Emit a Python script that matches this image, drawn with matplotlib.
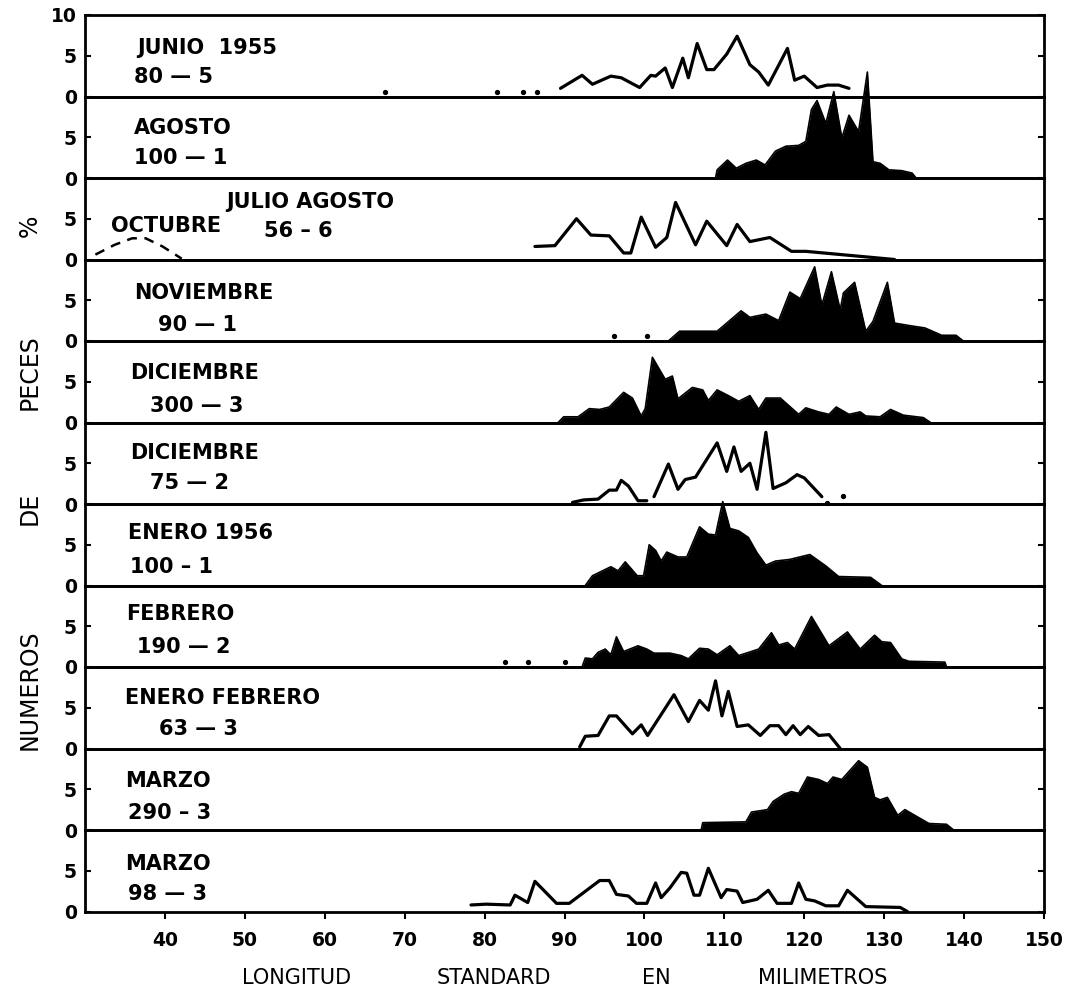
import numpy as np
import matplotlib.pyplot as plt

plt.rcParams['font.family'] = 'DejaVu Sans'

X_TICKS = [40, 50, 60, 70, 80, 90, 100, 110, 120, 130, 140, 150]

# Panel 1 - JUNIO 1955 (open line + stray dots)
junio_x = [89.5, 92.2, 93.5, 95.8, 97.1, 99.4, 100.8, 101.4, 102.6, 103.5, 104.8, 105.5, 106.6, 107.8,
           108.7, 110.3, 111.6, 113.2, 114.3, 115.5, 117.9, 118.8, 120.0, 121.6, 122.9, 124.3, 125.6]
junio_y = [1.0, 2.6, 1.5, 2.5, 2.3, 1.1, 2.6, 2.5, 3.5, 1.1, 4.7, 2.3, 6.5, 3.3,
           3.3, 5.2, 7.4, 3.9, 3.0, 1.4, 5.9, 2.0, 2.5, 1.1, 1.4, 1.4, 1.0]
junio_dots_x = [67.5, 81.5, 84.8, 86.5]
junio_dots_y = [0.6, 0.6, 0.6, 0.6]

# Panel 2 - AGOSTO (filled)
agosto_x = [108.9, 109.1, 110.4, 111.5, 112.7, 114.0, 115.1, 116.4, 117.7, 119.3, 120.2, 120.9, 121.6,
            122.7, 123.7, 124.7, 125.6, 126.8, 127.9, 128.6, 129.5, 130.6, 132.2, 133.5, 134.0]
agosto_y = [0, 1.0, 2.2, 1.2, 1.8, 2.2, 1.6, 3.3, 3.9, 4.0, 4.5, 8.4, 9.5,
            6.7, 10.6, 4.9, 7.7, 5.7, 13.0, 2.0, 1.8, 1.0, 0.9, 0.6, 0]

# Panel 3 - JULIO AGOSTO (open line) and OCTUBRE (dashed)
julio_x = [86.3, 88.8, 91.5, 93.3, 95.6, 97.4, 98.3, 99.6, 101.4, 102.8,
           103.9, 106.4, 107.8, 110.3, 111.6, 113.2, 115.7, 118.4, 120.2, 131.3]
julio_y = [1.6, 1.7, 5.0, 3.0, 2.9, 0.8, 0.8, 5.2, 1.5, 2.7,
           7.0, 1.8, 4.7, 1.7, 4.3, 2.2, 2.7, 1.0, 1.0, 0.0]
octubre_x = [31.3, 33.7, 35.9, 37.6, 39.7, 42.1]
octubre_y = [0.6, 1.8, 2.6, 2.6, 1.6, 0.1]

# Panel 4 - NOVIEMBRE (filled)
nov_x = [103.0, 104.4, 105.7, 109.1, 112.1, 113.2, 115.2, 116.8, 118.2, 119.5, 121.3, 122.2, 123.4,
         124.5, 124.9, 126.3, 127.7, 128.6, 130.4, 131.3, 133.1, 135.1, 137.2, 139.0, 139.9]
nov_y = [0, 1.2, 1.2, 1.2, 3.7, 2.9, 3.3, 2.5, 6.0, 5.2, 9.1, 4.4, 8.5,
         3.8, 5.9, 7.2, 1.2, 2.4, 7.2, 2.2, 1.9, 1.6, 0.7, 0.7, 0]
nov_dots_x = [96.2, 100.3]
nov_dots_y = [0.6, 0.6]

# Panel 5 - DICIEMBRE 300 (filled)
dic300_x = [89.2, 89.9, 91.7, 93.1, 94.4, 95.6, 97.4, 98.5, 99.6, 100.1, 101.0, 102.6, 103.5,
            104.2, 106.0, 107.3, 108.0, 109.1, 110.5, 111.8, 113.2, 114.3, 115.2, 117.0, 119.3,
            120.2, 121.8, 123.1, 124.0, 125.6, 127.0, 127.7, 129.5, 130.8, 132.4, 134.9, 135.8]
dic300_y = [0, 0.7, 0.7, 1.7, 1.6, 1.9, 3.7, 3.0, 0.8, 1.7, 8.0, 5.3, 5.7,
            2.9, 4.3, 4.0, 2.7, 4.0, 3.3, 2.6, 3.3, 1.6, 3.0, 3.0, 1.0,
            1.8, 1.3, 1.0, 1.9, 1.0, 1.3, 0.8, 0.7, 1.6, 0.9, 0.6, 0]

# Panel 6 - DICIEMBRE 75 (open line, broken near 100)
dic75_x = [91.0, 92.4, 94.2, 95.6, 96.5, 97.1, 98.0, 99.2, 100.3, np.nan, 101.2, 103.0, 104.2, 105.1,
           106.4, 109.1, 110.3, 111.2, 112.1, 113.2, 114.1, 115.2, 116.1, 117.7, 119.1, 120.0, 122.2]
dic75_y = [0.2, 0.5, 0.6, 1.7, 1.7, 2.9, 2.2, 0.4, 0.4, np.nan, 0.9, 4.9, 1.8, 3.0,
           3.3, 7.5, 4.0, 7.0, 4.0, 5.0, 1.8, 8.8, 1.9, 2.6, 3.6, 3.2, 0.9]
dic75_dots_x = [122.9, 124.9]
dic75_dots_y = [0.1, 1.0]

# Panel 7 - ENERO 1956 (filled)
enero_x = [92.6, 93.5, 95.8, 96.7, 97.6, 99.1, 99.9, 100.6, 101.4, 102.1, 102.8, 104.2, 105.3, 106.9,
           108.0, 108.9, 109.8, 110.7, 111.8, 113.0, 114.1, 115.2, 116.4, 118.2, 120.7, 122.7, 124.3,
           128.3, 129.7]
enero_y = [0, 1.2, 2.3, 1.8, 2.9, 1.2, 1.2, 5.0, 4.3, 3.0, 4.1, 3.5, 3.5, 7.2,
           6.3, 6.2, 10.3, 7.0, 6.7, 5.9, 4.0, 2.5, 3.0, 3.2, 3.8, 2.4, 1.1,
           1.0, 0]

# Panel 8 - FEBRERO (filled + dots)
feb_x = [92.2, 92.6, 93.5, 94.2, 95.1, 95.8, 96.5, 97.4, 99.2, 100.3, 101.2, 103.2, 104.6, 105.5,
         106.9, 108.0, 109.1, 110.7, 111.8, 114.3, 115.9, 116.8, 117.9, 118.8, 120.9, 123.1, 125.4,
         127.0, 128.8, 129.7, 130.8, 132.2, 133.1, 137.6, 137.8]
feb_y = [0, 1.1, 1.0, 1.8, 2.2, 1.5, 3.7, 1.9, 2.6, 2.2, 1.7, 1.7, 1.4, 1.0,
         2.3, 2.2, 1.5, 2.6, 1.4, 2.2, 4.2, 2.7, 3.0, 2.2, 6.2, 2.6, 4.3,
         2.2, 3.9, 3.1, 3.0, 1.0, 0.7, 0.6, 0]
feb_dots_x = [82.5, 85.4, 90.1]
feb_dots_y = [0.6, 0.6, 0.6]

# Panel 9 - ENERO FEBRERO (open line)
enefeb_x = [91.9, 92.6, 94.2, 95.6, 96.5, 98.5, 99.6, 100.4, 103.7, 105.5, 106.9, 108.0, 108.9, 109.7,
            110.5, 111.6, 113.0, 114.5, 115.7, 116.8, 117.7, 118.6, 119.5, 120.5, 121.8, 123.1, 124.5]
enefeb_y = [0.2, 1.5, 1.6, 4.0, 4.0, 1.8, 2.9, 1.6, 6.6, 3.3, 5.9, 4.7, 8.3, 4.0,
            7.0, 2.7, 2.9, 1.6, 2.8, 2.8, 1.7, 2.8, 1.7, 2.7, 1.6, 1.7, 0.0]

# Panel 10 - MARZO 290 (filled)
mar290_x = [107.1, 107.3, 112.7, 113.4, 115.4, 116.1, 117.5, 118.4, 119.3, 120.4, 121.8, 122.9, 123.6,
            124.7, 126.8, 127.9, 128.8, 129.5, 130.4, 131.7, 132.6, 134.0, 135.6, 137.8, 138.7]
mar290_y = [0, 0.9, 1.0, 2.2, 2.5, 3.5, 4.4, 4.7, 4.5, 6.5, 6.2, 5.7, 6.5,
            6.2, 8.5, 7.7, 4.0, 3.7, 4.0, 1.8, 2.5, 1.7, 0.8, 0.7, 0]

# Panel 11 - MARZO 98 (open line)
mar98_x = [78.3, 80.2, 83.2, 83.8, 85.4, 86.3, 89.0, 90.6, 94.4, 95.6, 96.5, 98.0, 99.0, 100.3,
           101.4, 102.1, 103.2, 104.6, 105.3, 106.2, 106.9, 108.0, 109.6, 110.3, 111.6, 112.3, 114.1,
           115.5, 116.6, 118.4, 119.3, 120.2, 121.3, 122.7, 124.3, 125.4, 127.7, 132.0, 132.9]
mar98_y = [0.8, 0.9, 0.8, 2.0, 1.1, 3.7, 1.0, 1.0, 3.8, 3.8, 2.1, 1.9, 1.0, 1.0,
           3.5, 1.7, 2.9, 4.8, 4.7, 2.0, 2.0, 5.3, 1.7, 2.7, 2.5, 1.1, 1.5,
           2.6, 1.0, 1.0, 3.5, 1.5, 1.3, 0.7, 0.7, 2.6, 0.6, 0.5, 0]

titles = ["JUNIO  1955", "AGOSTO", "JULIO AGOSTO", "NOVIEMBRE", "DICIEMBRE", "DICIEMBRE",
          "ENERO 1956", "FEBRERO", "ENERO FEBRERO", "MARZO", "MARZO"]
counts = ["80 — 5", "100 — 1", "56 – 6", "90 — 1", "300 — 3", "75 — 2",
          "100 – 1", "190 — 2", "63 — 3", "290 – 3", "98 — 3"]

series_x = [junio_x, agosto_x, julio_x, nov_x, dic300_x, dic75_x, enero_x, feb_x, enefeb_x, mar290_x, mar98_x]
series_y = [junio_y, agosto_y, julio_y, nov_y, dic300_y, dic75_y, enero_y, feb_y, enefeb_y, mar290_y, mar98_y]
filled = [False, True, False, True, True, False, True, True, False, True, False]
dots = {0: (junio_dots_x, junio_dots_y), 3: (nov_dots_x, nov_dots_y),
        5: (dic75_dots_x, dic75_dots_y), 7: (feb_dots_x, feb_dots_y)}

# label placement (data coords inside each panel)
title_pos = [(36.5, 5.9), (36.1, 6.1), (47.7, 7.1), (36.1, 5.9), (35.6, 6.1), (35.6, 6.3),
             (35.4, 6.4), (35.2, 6.5), (35.0, 6.2), (35.0, 6.0), (35.0, 5.8)]
count_pos = [(36.1, 2.4), (36.1, 2.45), (52.4, 3.5), (39.1, 2.0), (38.1, 2.0), (38.1, 2.6),
             (35.6, 2.3), (36.5, 2.4), (39.3, 2.4), (35.4, 2.1), (35.4, 2.1)]

W, H = 1067, 993
fig = plt.figure(figsize=(W / 100, H / 100), dpi=100)
axes = fig.subplots(11, 1, sharex=True,
                    gridspec_kw=dict(hspace=0, left=85 / W, right=1044 / W,
                                     top=1 - 15 / H, bottom=1 - 911.5 / H))

LW = 2.3
LABEL_FS = 15
for i, ax in enumerate(axes):
    ax.set_facecolor('none')
    x = np.array(series_x[i], dtype=float)
    y = np.array(series_y[i], dtype=float)
    if filled[i]:
        ax.fill_between(x, y, 0, color='black', lw=0, clip_on=False, zorder=3)
        ax.plot(x, y, color='black', lw=1.2, clip_on=False, zorder=3)
    else:
        ax.plot(x, y, color='black', lw=LW, clip_on=False, zorder=3,
                solid_joinstyle='round', solid_capstyle='round')
    if i in dots:
        dx, dy = dots[i]
        ax.plot(dx, dy, 'o', color='black', ms=2.8, clip_on=False, zorder=3)
    if i == 2:
        ax.plot(octubre_x, octubre_y, color='black', lw=1.8, ls=(0, (4, 3)), clip_on=False, zorder=3)
        ax.text(33.2, 4.1, "OCTUBRE", fontsize=LABEL_FS, fontweight='bold', ha='left', va='center')

    ax.text(*title_pos[i], titles[i], fontsize=LABEL_FS, fontweight='bold', ha='left', va='center')
    ax.text(*count_pos[i], counts[i], fontsize=LABEL_FS, fontweight='bold', ha='left', va='center')

    ax.set_xlim(30, 150)
    ax.set_ylim(0, 10)
    if i == 0:
        ax.set_yticks([0, 5, 10])
        ax.set_yticklabels(["0", "5", "10"])
    else:
        ax.set_yticks([0, 5])
        ax.set_yticklabels(["0", "5"])
    ax.tick_params(axis='y', direction='in', length=4, width=1.5, left=True, right=True,
                   labelsize=13.5, pad=6)
    for lab in ax.get_yticklabels():
        lab.set_fontweight('bold')
    for side in ['left', 'right', 'bottom', 'top']:
        ax.spines[side].set_linewidth(2.0)
    if i < 10:
        ax.tick_params(axis='x', bottom=False, labelbottom=False)

bottom_ax = axes[-1]
bottom_ax.set_xticks(X_TICKS)
bottom_ax.set_xticklabels([str(t) for t in X_TICKS])
bottom_ax.tick_params(axis='x', direction='out', length=5, width=1.5, labelsize=13.5, pad=9)
for lab in bottom_ax.get_xticklabels():
    lab.set_fontweight('bold')

# axis words, spread out as in the original
for word, px in [("LONGITUD", 297), ("STANDARD", 494), ("EN", 656), ("MILIMETROS", 823)]:
    fig.text(px / W, 1 - 978 / H, word, fontsize=15, ha='center', va='center')
for word, py in [("%", 226), ("PECES", 372), ("DE", 508), ("NUMEROS", 690)]:
    fig.text(30 / W, 1 - py / H, word, fontsize=17, rotation=90, ha='center', va='center')

plt.savefig("out.png", dpi=100)
